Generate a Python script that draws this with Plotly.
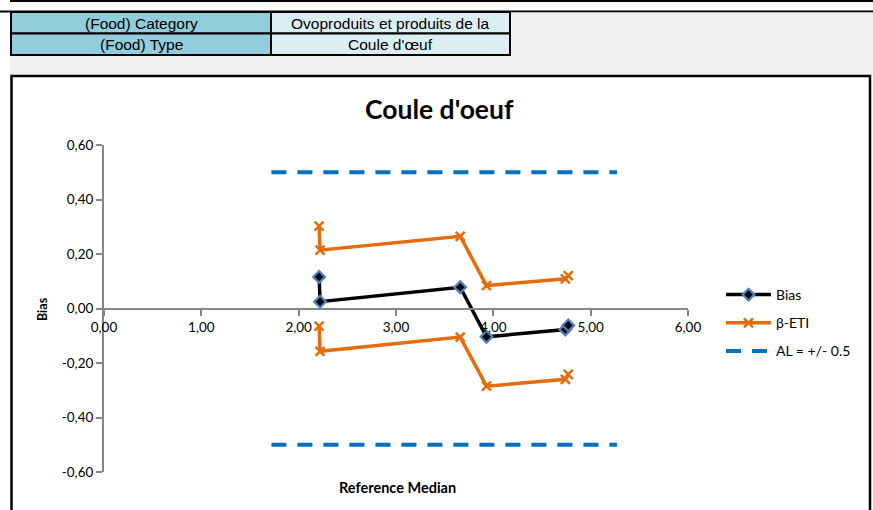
import plotly.graph_objects as go

# ---------------- data ----------------
x_vals = [2.21, 2.22, 3.66, 3.93, 4.74, 4.77]
bias = [0.116, 0.025, 0.078, -0.104, -0.077, -0.062]
eti_upper = [0.302, 0.214, 0.265, 0.084, 0.109, 0.121]
eti_lower = [-0.065, -0.157, -0.105, -0.285, -0.260, -0.242]
al_x = [1.72, 5.27]
al_upper = [0.5, 0.5]
al_lower = [-0.5, -0.5]

x_ticks = [0, 1, 2, 3, 4, 5, 6]
x_tick_labels = ["0,00", "1,00", "2,00", "3,00", "4,00", "5,00", "6,00"]
y_ticks = [-0.6, -0.4, -0.2, 0.0, 0.2, 0.4, 0.6]
y_tick_labels = ["-0,60", "-0,40", "-0,20", "0,00", "0,20", "0,40", "0,60"]

title = "Coule d'oeuf"
table_rows = [("(Food) Category", "Ovoproduits et produits de la"),
              ("(Food) Type", "Coule d'œuf")]

# ---------------- layout geometry (pixels) ----------------
W, H = 873, 510
L, R, T, B = 104, 688, 145, 472
PW, PH = R - L, B - T


def px(x):
    return (x - L) / PW


def py(y):
    return (B - y) / PH


BLACK = "#000000"
ORANGE = "#E46C0A"
BLUE = "#0070C0"
MBLUE = "#4F81BD"
AXIS = "#868686"
FONT = "Lato, Open Sans, sans-serif"

fig = go.Figure()

fig.add_trace(go.Scatter(
    x=x_vals, y=bias, mode="lines+markers", name="Bias",
    legendgroup="a",
    line=dict(color=BLACK, width=3.5),
    marker=dict(symbol="diamond", size=9, color=BLACK,
                line=dict(color=MBLUE, width=2.2)),
))
fig.add_trace(go.Scatter(
    x=x_vals, y=eti_upper, mode="lines+markers", name="β-ETI",
    legendgroup="b",
    line=dict(color=ORANGE, width=3.5),
    marker=dict(symbol="x-thin", size=9, color=ORANGE,
                line=dict(color=ORANGE, width=2.5)),
))
fig.add_trace(go.Scatter(
    x=x_vals, y=eti_lower, mode="lines+markers", name="β-ETI",
    legendgroup="b", showlegend=False,
    line=dict(color=ORANGE, width=3.5),
    marker=dict(symbol="x-thin", size=9, color=ORANGE,
                line=dict(color=ORANGE, width=2.5)),
))
fig.add_trace(go.Scatter(
    x=al_x, y=al_upper, mode="lines", name="AL = +/- 0.5",
    legendgroup="c",
    line=dict(color=BLUE, width=4, dash="15px,11px"),
))
fig.add_trace(go.Scatter(
    x=al_x, y=al_lower, mode="lines", name="AL = +/- 0.5",
    legendgroup="c", showlegend=False,
    line=dict(color=BLUE, width=4, dash="15px,11px"),
))

shapes = []
# top black lines
shapes.append(dict(type="rect", xref="paper", yref="paper",
                   x0=px(10), x1=px(W + 2), y0=py(-1), y1=py(2),
                   fillcolor=BLACK, line=dict(width=0), layer="below"))
shapes.append(dict(type="rect", xref="paper", yref="paper",
                   x0=px(-2), x1=px(W + 2), y0=py(10.5), y1=py(12.5),
                   fillcolor=BLACK, line=dict(width=0), layer="below"))
# gray background band
shapes.append(dict(type="rect", xref="paper", yref="paper",
                   x0=px(10), x1=px(W + 2), y0=py(12.5), y1=py(75),
                   fillcolor="#F0F0F0", line=dict(width=0), layer="below"))
# chart box
shapes.append(dict(type="rect", xref="paper", yref="paper",
                   x0=px(11.5), x1=px(870), y0=py(76), y1=py(H + 5),
                   fillcolor="white", line=dict(color=BLACK, width=2.5),
                   layer="below"))
# table cells
row_y = [(12, 33.5), (33.5, 55)]
col_x = [(11, 271, "#92CDDC"), (271, 510, "#DAEEF3")]
for (ya, yb) in row_y:
    for (xa, xb, c) in col_x:
        shapes.append(dict(type="rect", xref="paper", yref="paper",
                           x0=px(xa), x1=px(xb), y0=py(ya), y1=py(yb),
                           fillcolor=c, line=dict(color=BLACK, width=2),
                           layer="below"))

annotations = []
for (ya, yb), (left, right) in zip(row_y, table_rows):
    yc = (ya + yb) / 2
    for (xa, xb, _), txt in zip(col_x, (left, right)):
        annotations.append(dict(
            text=txt, xref="paper", yref="paper",
            x=px((xa + xb) / 2), y=py(yc + 0.5),
            xanchor="center", yanchor="middle", showarrow=False,
            font=dict(family="Liberation Sans, Arial", size=15.5, color=BLACK)))

annotations.append(dict(
    text="<b>" + title + "</b>", xref="paper", yref="paper",
    x=px(439), y=py(109), xanchor="center", yanchor="middle",
    showarrow=False, font=dict(family=FONT, size=26.5, color=BLACK)))
annotations.append(dict(
    text="<b>Reference Median</b>", xref="paper", yref="paper",
    x=px(397), y=py(487), xanchor="center", yanchor="middle",
    showarrow=False, font=dict(family=FONT, size=14.5, color=BLACK)))
annotations.append(dict(
    text="<b>Bias</b>", xref="paper", yref="paper",
    x=px(42), y=py(309), xanchor="center", yanchor="middle",
    textangle=-90, showarrow=False,
    font=dict(family=FONT, size=12.5, color=BLACK)))

fig.update_layout(
    width=W, height=H,
    margin=dict(l=L, r=W - R, t=T, b=H - B, pad=0),
    paper_bgcolor="white", plot_bgcolor="rgba(0,0,0,0)",
    font=dict(family=FONT, size=13.5, color=BLACK),
    shapes=shapes, annotations=annotations,
    showlegend=True,
    legend=dict(x=px(721), y=py(279), xanchor="left", yanchor="top",
                bgcolor="rgba(0,0,0,0)", tracegroupgap=7,
                font=dict(family=FONT, size=14, color=BLACK),
                itemwidth=45),
    xaxis=dict(range=[0, 6], tickvals=x_ticks, ticktext=x_tick_labels,
               showgrid=False, zeroline=False, showline=True,
               linecolor=AXIS, linewidth=2, ticks="outside", ticklen=6,
               tickcolor=AXIS, tickwidth=1.5, anchor="free", position=0.5,
               tickfont=dict(family=FONT, size=13.5, color=BLACK),
               fixedrange=True),
    yaxis=dict(range=[-0.6, 0.6], tickvals=y_ticks, ticktext=y_tick_labels,
               showgrid=False, zeroline=False, showline=True,
               linecolor=AXIS, linewidth=2, ticks="outside", ticklen=6,
               tickcolor=AXIS, tickwidth=1.5,
               tickfont=dict(family=FONT, size=13.5, color=BLACK),
               fixedrange=True),
)

fig.write_html("out.html",
               config={"displayModeBar": False},
               post_script="document.body.style.margin='0';"
                           "document.body.style.overflow='hidden';")
